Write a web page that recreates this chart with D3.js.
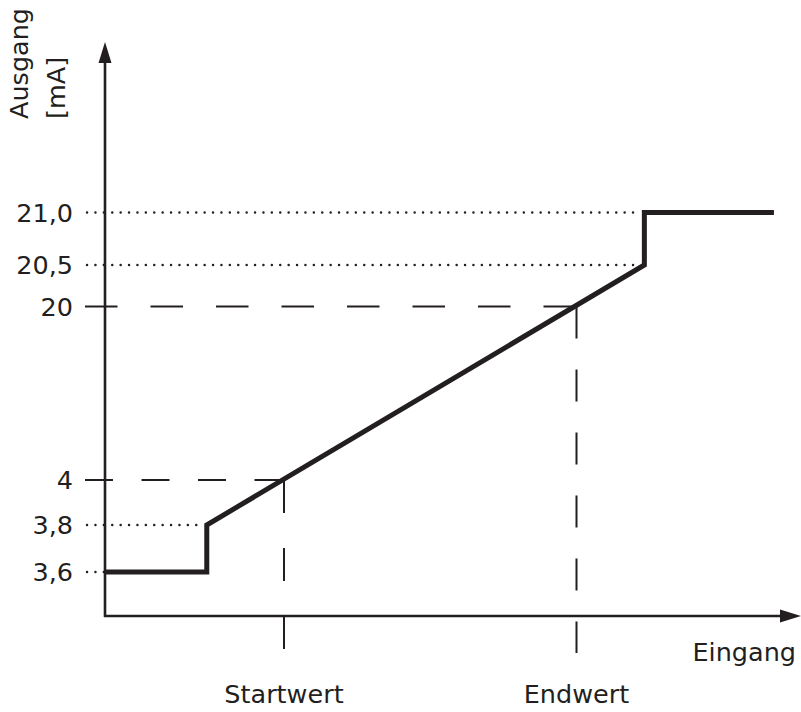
<!DOCTYPE html>
<html>
<head>
<meta charset="utf-8">
<script src="https://cdn.jsdelivr.net/npm/d3@7"></script>
<style>
  html, body { margin: 0; padding: 0; background: #fff; }
  text { font-family: "DejaVu Sans", "Open Sans", sans-serif; fill: #231f20; }
</style>
</head>
<body>
<svg id="chart" width="801" height="712"></svg>
<script>
// ---- data ----
// output levels (mA) shown on the y axis
const tickValues = [3.6, 3.8, 4, 20, 20.5, 21.0];
const tickLabels = ["3,6", "3,8", "4", "20", "20,5", "21,0"];
// input in % of span (Startwert = 0, Endwert = 100)
const curveInput  = [-61.2, -26.4, -26.4, 123.2, 123.2, 167.5];
const curveOutput = [3.6, 3.6, 3.8, 20.5, 21.0, 21.0];
// reference markers on the input axis
const markerInput  = [0, 100];
const markerOutput = [4, 20];
const markerLabels = ["Startwert", "Endwert"];
// limit guides (dotted) : output level and input where the step happens
const limitOutput = [3.6, 3.8, 20.5, 21.0];
const limitInput  = [-26.4, -26.4, 123.2, 123.2];
const yTitle = ["Ausgang", "[mA]"];
const xTitle = "Eingang";

// ---- layout ----
const svg = d3.select("#chart");
const ink = "#231f20";
const axisX0 = 105, axisYBottom = 616, axisYTop = 42, axisXRight = 801;
const fs = 25.5;

const x = d3.scaleLinear().domain([0, 100]).range([284, 576.5]);
// schematic (non-proportional) output scale
const y = d3.scaleLinear()
  .domain([3.6, 3.8, 4, 20, 20.5, 21.0])
  .range([572, 525, 480, 306.5, 265, 212.5]);

// dotted limit guides
limitOutput.forEach((v, i) => {
  svg.append("line")
    .attr("x1", 87).attr("x2", x(limitInput[i]) - 8)
    .attr("y1", y(v)).attr("y2", y(v))
    .attr("stroke", ink).attr("stroke-width", 2.4)
    .attr("stroke-linecap", "round")
    .attr("stroke-dasharray", "0.1,8.3");
});

// dashed markers
const hDash = ["28,28.5", "32.5,33"];
const vDash = ["33,35", "32,31"];
markerOutput.forEach((v, i) => {
  svg.append("line")
    .attr("x1", 85).attr("x2", x(markerInput[i]))
    .attr("y1", y(v)).attr("y2", y(v))
    .attr("stroke", ink).attr("stroke-width", 2)
    .attr("stroke-dasharray", hDash[i]);
  svg.append("line")
    .attr("x1", x(markerInput[i])).attr("x2", x(markerInput[i]))
    .attr("y1", y(v)).attr("y2", 653)
    .attr("stroke", ink).attr("stroke-width", 2)
    .attr("stroke-dasharray", vDash[i]);
  svg.append("text")
    .attr("x", x(markerInput[i])).attr("y", 703)
    .attr("text-anchor", "middle")
    .attr("font-size", fs)
    .text(markerLabels[i]);
});

// axes
svg.append("line")
  .attr("x1", axisX0).attr("x2", axisX0)
  .attr("y1", axisYBottom + 1).attr("y2", axisYTop + 15)
  .attr("stroke", ink).attr("stroke-width", 2.6);
svg.append("line")
  .attr("x1", axisX0 - 1).attr("x2", axisXRight - 15)
  .attr("y1", axisYBottom).attr("y2", axisYBottom)
  .attr("stroke", ink).attr("stroke-width", 2.6);
svg.append("path")
  .attr("d", `M${axisX0},${axisYTop} L${axisX0 + 6.5},${axisYTop + 21} L${axisX0 - 6.5},${axisYTop + 21} Z`)
  .attr("fill", ink);
svg.append("path")
  .attr("d", `M${axisXRight},${axisYBottom} L${axisXRight - 21},${axisYBottom - 6.5} L${axisXRight - 21},${axisYBottom + 6.5} Z`)
  .attr("fill", ink);

// y tick labels
tickValues.forEach((v, i) => {
  svg.append("text")
    .attr("x", 73).attr("y", y(v))
    .attr("dy", "0.36em")
    .attr("text-anchor", "end")
    .attr("font-size", fs)
    .text(tickLabels[i]);
});

// y title (rotated)
const titleBase = [28, 65];
yTitle.forEach((t, i) => {
  svg.append("text")
    .attr("transform", `translate(${titleBase[i]},119) rotate(-90)`)
    .attr("text-anchor", "start")
    .attr("font-size", fs)
    .text(t);
});

// x title
svg.append("text")
  .attr("x", 796).attr("y", 661)
  .attr("text-anchor", "end")
  .attr("font-size", fs)
  .text(xTitle);

// transfer curve
const line = d3.line()
  .x((d, i) => x(curveInput[i]))
  .y((d, i) => y(curveOutput[i]));
svg.append("path")
  .attr("d", line(curveInput))
  .attr("fill", "none")
  .attr("stroke", ink)
  .attr("stroke-width", 5)
  .attr("stroke-linejoin", "miter");
</script>
</body>
</html>
